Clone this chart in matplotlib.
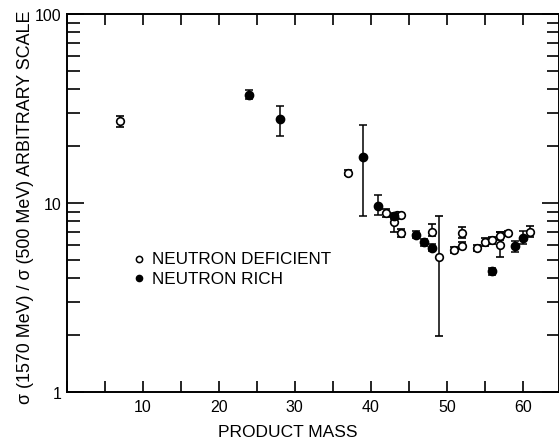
import matplotlib
matplotlib.use("Agg")

import matplotlib.pyplot as plt
import numpy as np
from matplotlib.ticker import LogLocator, NullFormatter, MultipleLocator, FixedLocator

plt.rcParams["font.family"] = ["Liberation Sans", "DejaVu Sans"]

# neutron deficient (open symbols): mass, value, lower end, upper end
def_mass = [7, 37, 42, 43, 43.5, 44, 44, 48, 49, 51, 52, 52, 54, 55, 56, 57, 57, 58, 61]
def_val  = [27.0, 14.4, 8.8, 7.9, 8.6, 8.6, 6.95, 7.0, 5.15, 5.65, 5.95, 6.95, 5.8, 6.2, 6.35, 6.65, 6.0, 6.9, 7.05]
def_lo   = [25.1, 14.0, 8.4, 7.0, 8.3, 8.3, 6.6, 6.7, 1.97, 5.45, 5.7, 6.55, 5.6, 5.9, 6.1, 6.4, 5.2, 6.7, 6.6]
def_hi   = [29.0, 14.9, 9.3, 8.5, 8.9, 8.9, 7.3, 7.75, 8.5, 5.85, 6.2, 7.45, 6.0, 6.55, 6.6, 7.0, 7.0, 7.1, 7.6]

# neutron rich (filled symbols)
rich_mass = [24, 28, 39, 41, 43, 46, 47, 48, 56, 59, 60]
rich_val  = [37.4, 27.8, 17.5, 9.7, 8.55, 6.8, 6.2, 5.8, 4.35, 5.95, 6.5]
rich_lo   = [35.4, 22.7, 8.55, 8.6, 8.2, 6.5, 5.95, 5.55, 4.15, 5.5, 6.05]
rich_hi   = [39.4, 32.7, 25.9, 11.0, 8.9, 7.1, 6.45, 6.05, 4.55, 6.3, 7.1]

x_ticks = [10, 20, 30, 40, 50, 60]
y_ticks = [1, 10, 100]


def yerr(val, lo, hi):
    val = np.array(val)
    return [val - np.array(lo), np.array(hi) - val]


fig = plt.figure(figsize=(5.59, 4.39), dpi=100)
ax = fig.add_axes([0.1193, 0.1048, 0.880, 0.861])

ax.errorbar(def_mass, def_val, yerr=yerr(def_val, def_lo, def_hi), fmt="o",
            mfc="white", mec="black", mew=1.2, ms=5.5, ecolor="black",
            elinewidth=1.1, capsize=3, capthick=1.1, zorder=3)
ax.errorbar(rich_mass, rich_val, yerr=yerr(rich_val, rich_lo, rich_hi), fmt="o",
            mfc="black", mec="black", ms=6, ecolor="black",
            elinewidth=1.1, capsize=3, capthick=1.1, zorder=4)

ax.set_yscale("log")
ax.set_xlim(0, 64.7)
ax.set_ylim(1, 100)

ax.xaxis.set_major_locator(FixedLocator(x_ticks))
ax.xaxis.set_minor_locator(MultipleLocator(5))
ax.yaxis.set_major_locator(FixedLocator(y_ticks))
ax.yaxis.set_minor_locator(LogLocator(base=10, subs=np.arange(2, 10)))
ax.yaxis.set_minor_formatter(NullFormatter())
ax.set_yticklabels(["1", "10", "100"])

ax.tick_params(axis="both", which="both", direction="in", top=True, right=True,
               width=1.2, labelsize=11.5)
ax.tick_params(axis="x", which="both", length=8, pad=5)
ax.tick_params(axis="y", which="major", length=12, pad=4)
ax.tick_params(axis="y", which="minor", length=9)

for s in ax.spines.values():
    s.set_linewidth(1.4)

ax.set_xlabel("PRODUCT MASS", fontsize=12.5)
ax.xaxis.set_label_coords(0.45, -0.085)
ax.set_ylabel("σ (1570 MeV) / σ (500 MeV) ARBITRARY SCALE", fontsize=12.9)
ax.yaxis.set_label_coords(-0.067, 0.492)

# legend drawn as text next to symbols
ax.plot([9.5], [5.06], "o", mfc="white", mec="black", mew=1.1, ms=4.5)
ax.plot([9.5], [4.01], "o", mfc="black", mec="black", ms=4.5)
ax.text(11.2, 5.06, "NEUTRON DEFICIENT", fontsize=12.3, va="center", ha="left")
ax.text(11.2, 4.01, "NEUTRON RICH", fontsize=12.3, va="center", ha="left")

fig.savefig("out.png", dpi=100)
